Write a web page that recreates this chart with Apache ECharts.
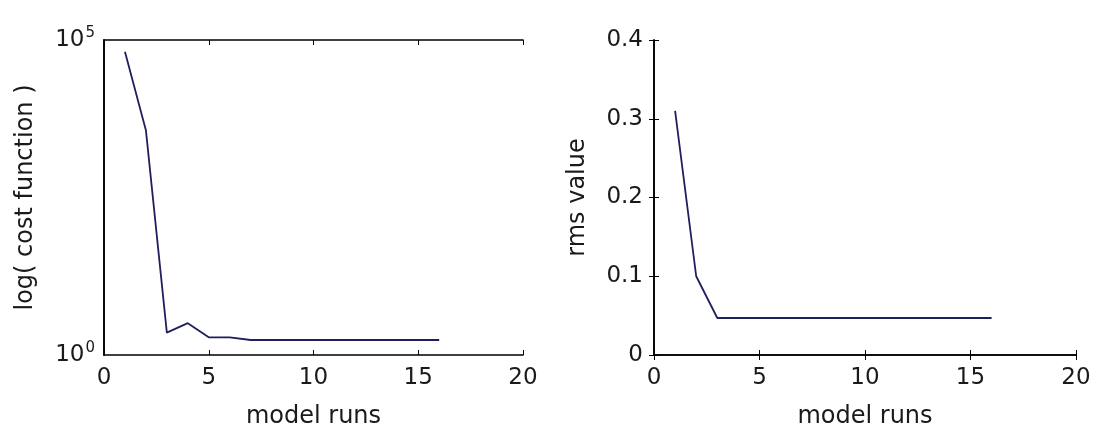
<!DOCTYPE html>
<html>
<head>
<meta charset="utf-8">
<script src="https://cdn.jsdelivr.net/npm/echarts@6/dist/echarts.min.js"></script>
<style>
  html, body { margin: 0; padding: 0; background: #fff; }
  #chart { width: 1094px; height: 432px; }
</style>
</head>
<body>
<div id="chart"></div>
<script>
// model run numbers (x)
const runs = [1, 2, 3, 4, 5, 6, 7, 8, 9, 10, 11, 12, 13, 14, 15, 16];
// left panel: cost function (log axis)
const costValues = [65000, 3700, 2.26, 3.2, 1.91, 1.91, 1.73, 1.73, 1.73, 1.73, 1.73, 1.73, 1.73, 1.73, 1.73, 1.73];
// right panel: rms value
const rmsValues = [0.31, 0.10, 0.047, 0.047, 0.047, 0.047, 0.047, 0.047, 0.047, 0.047, 0.047, 0.047, 0.047, 0.047, 0.047, 0.047];
const xTicks = [0, 5, 10, 15, 20];
const costTicks = [1, 100000];
const rmsTicks = [0, 0.1, 0.2, 0.3, 0.4];

const FONT = 'DejaVu Sans';
const TXT = '#1a1a1a';
const LINE = '#1f1f5e';

const chart = echarts.init(document.getElementById('chart'));

function xAxes(gridIndex) {
    return [
        {
            gridIndex: gridIndex, type: 'value', position: 'bottom',
            min: xTicks[0], max: xTicks[xTicks.length - 1], interval: 5,
            name: 'model runs', nameLocation: 'middle', nameGap: 50,
            nameTextStyle: { fontFamily: FONT, fontSize: 24, color: TXT },
            axisLine: { lineStyle: { color: '#000', width: 1.6 } },
            axisTick: { inside: true, length: 5, lineStyle: { color: '#000' } },
            axisLabel: { fontFamily: FONT, fontSize: 23, color: TXT, margin: 12 },
            splitLine: { show: false }
        },
        {
            gridIndex: gridIndex, type: 'value', position: 'top',
            min: xTicks[0], max: xTicks[xTicks.length - 1], interval: 5,
            axisLine: { lineStyle: { color: '#000', width: 1.6 } },
            axisTick: { inside: true, length: 5, lineStyle: { color: '#000' } },
            axisLabel: { show: false },
            splitLine: { show: false }
        }
    ];
}

const option = {
    backgroundColor: '#fff',
    animation: false,
    grid: [
        { left: 104, top: 40, width: 419, height: 315, outerBoundsMode: 'none' },
        { left: 654, top: 40, width: 422, height: 315, outerBoundsMode: 'none' }
    ],
    xAxis: xAxes(0).concat(xAxes(1)),
    yAxis: [
        {
            gridIndex: 0, type: 'log', logBase: 10, position: 'left',
            min: costTicks[0], max: costTicks[1],
            name: 'log( cost function )', nameLocation: 'middle', nameGap: 66,
            nameTextStyle: { fontFamily: FONT, fontSize: 24, color: TXT },
            axisLine: { lineStyle: { color: '#000', width: 1.6 } },
            axisTick: { show: false },
            axisLabel: {
                customValues: costTicks,
                margin: 9,
                fontFamily: FONT, fontSize: 23, color: TXT,
                formatter: function (v) {
                    return '10{sup|' + Math.round(Math.log10(v)) + '}';
                },
                rich: {
                    sup: { fontFamily: FONT, fontSize: 15, color: TXT, padding: [0, 0, 13, 1] }
                }
            },
            splitLine: { show: false }
        },
        {
            gridIndex: 0, type: 'log', logBase: 10, position: 'right',
            min: costTicks[0], max: costTicks[1],
            axisLine: { lineStyle: { color: '#000', width: 1.6 } },
            axisTick: { show: false },
            axisLabel: { show: false },
            splitLine: { show: false }
        },
        {
            gridIndex: 1, type: 'value', position: 'left',
            min: rmsTicks[0], max: rmsTicks[rmsTicks.length - 1], interval: 0.1,
            name: 'rms value', nameLocation: 'middle', nameGap: 64,
            nameTextStyle: { fontFamily: FONT, fontSize: 24, color: TXT },
            axisLine: { lineStyle: { color: '#000', width: 1.6 } },
            axisTick: { inside: true, length: 5, lineStyle: { color: '#000' } },
            axisLabel: { fontFamily: FONT, fontSize: 23, color: TXT, margin: 11 },
            splitLine: { show: false }
        },
        {
            gridIndex: 1, type: 'value', position: 'right',
            min: rmsTicks[0], max: rmsTicks[rmsTicks.length - 1], interval: 0.1,
            axisLine: { lineStyle: { color: '#000', width: 1.6 } },
            axisTick: { inside: true, length: 5, lineStyle: { color: '#000' } },
            axisLabel: { show: false },
            splitLine: { show: false }
        }
    ],
    series: [
        {
            type: 'line', xAxisIndex: 0, yAxisIndex: 0,
            data: runs.map((r, i) => [r, costValues[i]]),
            showSymbol: false,
            lineStyle: { color: LINE, width: 1.8 }
        },
        {
            type: 'line', xAxisIndex: 2, yAxisIndex: 2,
            data: runs.map((r, i) => [r, rmsValues[i]]),
            showSymbol: false,
            lineStyle: { color: LINE, width: 1.8 }
        }
    ]
};

chart.setOption(option);
</script>
</body>
</html>
